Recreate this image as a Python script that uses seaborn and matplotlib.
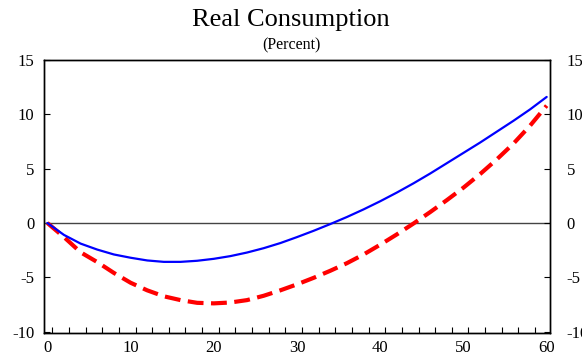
import numpy as np
import pandas as pd
import seaborn as sns
import matplotlib.pyplot as plt

# quarters after shock
quarters = list(range(0, 61, 2))

# blue solid line
baseline = [0.0, -1.1, -1.9, -2.45, -2.9, -3.2, -3.45, -3.58, -3.58, -3.48,
            -3.3, -3.05, -2.72, -2.32, -1.85, -1.3, -0.72, -0.1, 0.55, 1.25,
            2.0, 2.8, 3.65, 4.55, 5.5, 6.45, 7.4, 8.4, 9.4, 10.45, 11.6]

# red dashed line
alternative = [0.0, -1.3, -2.7, -3.6, -4.6, -5.5, -6.2, -6.75, -7.1, -7.35,
               -7.4, -7.32, -7.1, -6.7, -6.2, -5.65, -5.05, -4.4, -3.7, -2.9,
               -2.0, -1.05, -0.05, 1.0, 2.1, 3.25, 4.5, 5.85, 7.3, 8.95, 10.8]

yticks = [-10, -5, 0, 5, 10, 15]
xticks = [0, 10, 20, 30, 40, 50, 60]

df = pd.DataFrame({"quarter": quarters, "baseline": baseline, "alternative": alternative})

sns.set_style("ticks")
plt.rcParams["font.family"] = ["Liberation Serif", "DejaVu Serif"]
plt.rcParams["axes.unicode_minus"] = False
plt.rcParams["text.color"] = "black"
plt.rcParams["xtick.color"] = "black"
plt.rcParams["ytick.color"] = "black"

fig = plt.figure(figsize=(5.82, 3.59), dpi=100)
ax = fig.add_axes([44 / 582, 1 - 332.7 / 359, (550 - 44) / 582, (332.7 - 60) / 359])

ax.axhline(0, color="#444444", lw=1.0, zorder=1)
sns.lineplot(data=df, x="quarter", y="baseline", ax=ax, color="#0000ff", lw=1.6, zorder=3)
sns.lineplot(data=df, x="quarter", y="alternative", ax=ax, color="#ff0000", lw=3.0,
             dashes=False, zorder=2)
ax.lines[-1].set_dashes([3.8, 1.8])

ax.set_xlim(-0.4, 60.4)
ax.set_ylim(-10.1, 15)
ax.set_xlabel("")
ax.set_ylabel("")
ax.set_xticks(xticks)
ax.set_xticks(np.arange(0.6, 60, 2), minor=True)
ax.set_yticks(yticks)
ax.tick_params(axis="x", which="major", length=0, pad=5, labelsize=12)
ax.tick_params(axis="x", which="minor", direction="in", length=4, width=0.8)
ax.tick_params(axis="y", direction="in", length=4, width=0.8, pad=7, labelsize=12)

ax2 = ax.twinx()
ax2.set_ylim(ax.get_ylim())
ax2.set_yticks(yticks)
ax2.tick_params(axis="y", direction="in", length=4, width=0.8, pad=12, labelsize=12)

for a in (ax, ax2):
    for s in a.spines.values():
        s.set_color("black")
        s.set_linewidth(1.0)

fig.text(0.5, 1 - 20 / 359, "Real Consumption", ha="center", va="center", fontsize=19)
fig.text(0.5, 1 - 45 / 359, "(Percent)", ha="center", va="center", fontsize=11.5)

fig.savefig("out.png", dpi=100)
